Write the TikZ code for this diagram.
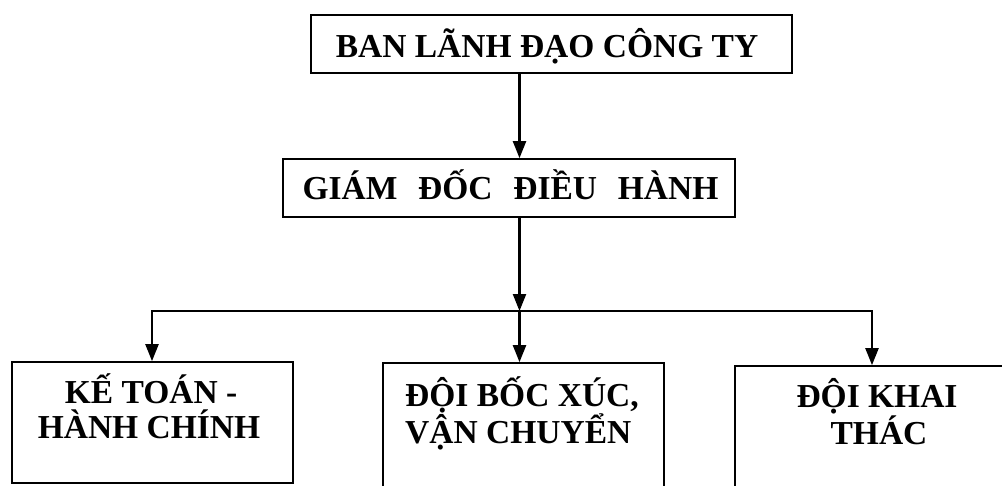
\documentclass[tikz,border=0pt]{standalone}
\usepackage{fontspec}
\setmainfont{Liberation Serif}
\usetikzlibrary{arrows.meta}
\begin{document}
\begin{tikzpicture}[x=1pt,y=-1pt,
  box/.style={draw, line width=1.7pt, rectangle, inner sep=0pt},
  lbl/.style={font=\fontsize{33.5}{37}\selectfont\bfseries, inner sep=0pt},
  conn/.style={line width=2.2pt},
  arr/.style={conn, -{Triangle[length=17pt,width=13pt]}}]
\useasboundingbox (0,0) rectangle (1002,485);
\clip (0,0) rectangle (1002,485);
% boxes
\node[box, minimum width=481pt, minimum height=58pt] (ban) at (551.5,44) {};
\node[box, minimum width=452pt, minimum height=58pt] (gd) at (509,188) {};
\node[box, minimum width=281pt, minimum height=121pt] (b1) at (152.5,422.5) {};
\node[box, minimum width=281pt, minimum height=157pt] (b2) at (523.5,441.5) {};
\node[box, minimum width=285pt, minimum height=154pt] (b3) at (877.5,443) {};
% texts
\node[lbl, anchor=base] (tban) at (547,57) {BAN LÃNH ĐẠO CÔNG TY};
\node[lbl, anchor=base] (tgd) at (510.5,199) {GIÁM\hspace{0.62em}ĐỐC\hspace{0.62em}ĐIỀU\hspace{0.62em}HÀNH};
\node[lbl, anchor=base] (t1a) at (151,403) {KẾ TOÁN -};
\node[lbl, anchor=base] (t1b) at (149,438) {HÀNH CHÍNH};
\node[lbl, anchor=base west] (t2a) at (405,406) {ĐỘI BỐC XÚC,};
\node[lbl, anchor=base west] (t2b) at (405,443) {VẬN CHUYỂN};
\node[lbl, anchor=base] (t3a) at (877,407) {ĐỘI KHAI};
\node[lbl, anchor=base] (t3b) at (879,444) {THÁC};
% connectors
\coordinate (bus) at (519.5,311);
\coordinate (busL) at (152,311);
\coordinate (busR) at (872,311);
\draw[arr] (ban.south -| bus) -- (gd.north -| bus);
\draw[arr] (gd.south -| bus) -- (bus);
\draw[arr] (bus) -- (busL) -- (b1.north -| busL);
\draw[arr] (bus) -- (b2.north -| bus);
\draw[arr] (bus) -- (busR) -- (b3.north -| busR);
\end{tikzpicture}
\end{document}
